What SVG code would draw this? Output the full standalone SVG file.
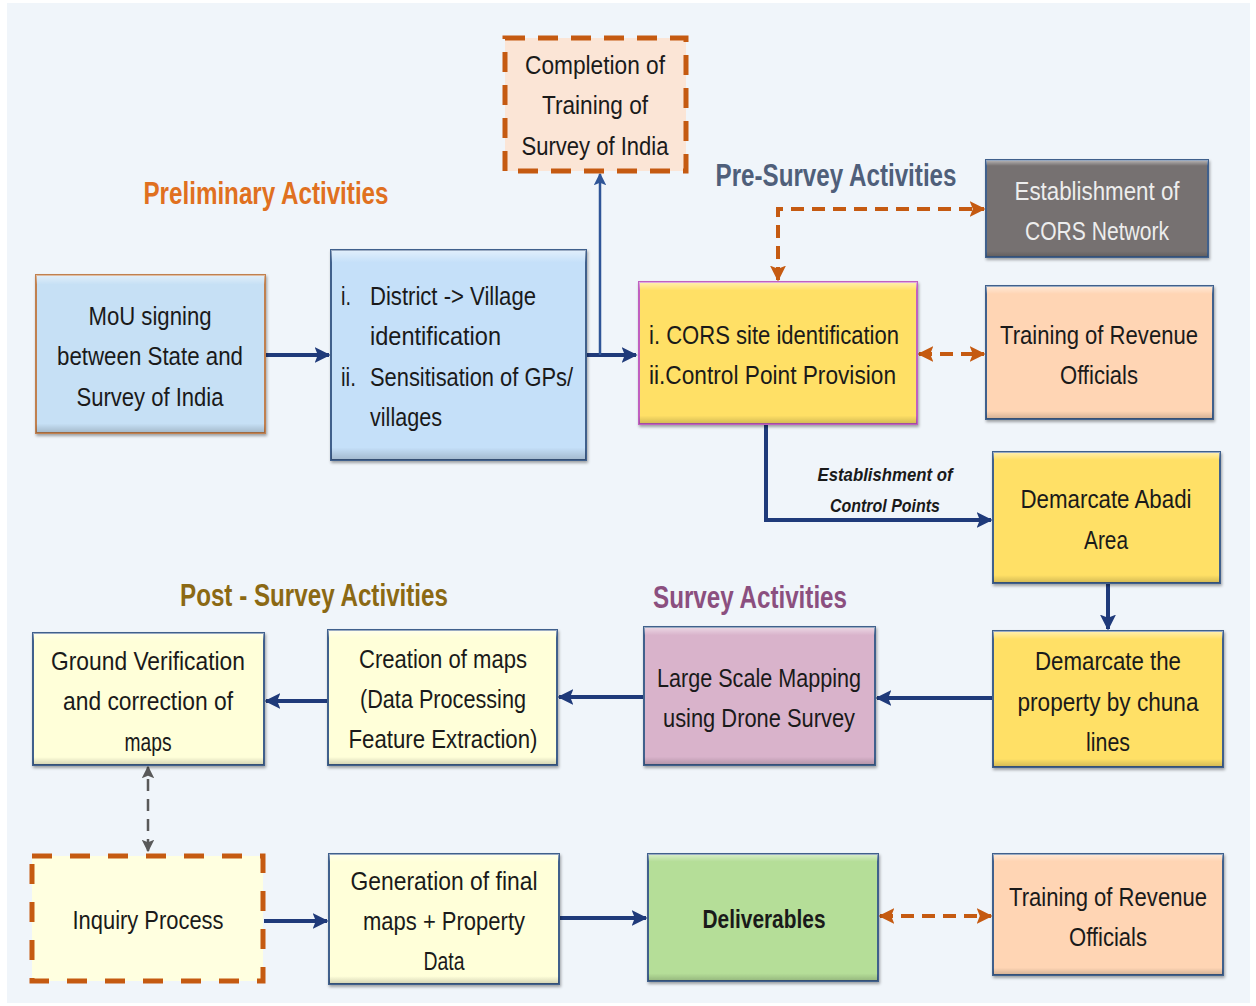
<svg xmlns="http://www.w3.org/2000/svg" width="1256" height="1006" viewBox="0 0 1256 1006">
<defs>
<style>
.t{font-family:"Liberation Sans","Open Sans",sans-serif;font-size:26px;fill:#1a1a1a;text-anchor:middle}
.s{text-anchor:start}
.h{font-family:"Liberation Sans",sans-serif;font-size:31px;font-weight:bold;text-anchor:middle}
.lb{font-family:"Liberation Sans",sans-serif;font-size:19px;font-style:italic;font-weight:bold;text-anchor:middle;fill:#1a1a1a}
.box{stroke:#41608C;stroke-width:2}
.c{fill:none;stroke:#1F3A7A;stroke-width:4}
.cd{fill:none;stroke:#C55A11;stroke-width:4;stroke-dasharray:13 8}
</style>
<marker id="a" viewBox="0 0 10 10" refX="9" refY="5" markerWidth="4" markerHeight="4" orient="auto-start-reverse"><path d="M0,0L10,5L0,10L2,5z" fill="#1F3A7A"/></marker>
<marker id="ab" viewBox="0 0 10 10" refX="9" refY="5" markerWidth="5" markerHeight="5" orient="auto-start-reverse"><path d="M0,0L10,5L0,10L2,5z" fill="#2F5597"/></marker>
<marker id="ao" viewBox="0 0 10 10" refX="9" refY="5" markerWidth="4" markerHeight="4" orient="auto-start-reverse"><path d="M0,0L10,5L0,10L2,5z" fill="#C55A11"/></marker>
<marker id="ag" viewBox="0 0 10 10" refX="9" refY="5" markerWidth="5" markerHeight="5" orient="auto-start-reverse"><path d="M0,0L10,5L0,10L2,5z" fill="#595959"/></marker>
<filter id="sh" x="-5%" y="-5%" width="110%" height="115%"><feDropShadow dx="1" dy="2" stdDeviation="1.5" flood-color="#000" flood-opacity="0.35"/></filter>
<linearGradient id="bev" x1="0" y1="0" x2="0" y2="1"><stop offset="0" stop-color="#fff" stop-opacity="0.5"/><stop offset="0.06" stop-color="#fff" stop-opacity="0"/><stop offset="0.94" stop-color="#000" stop-opacity="0"/><stop offset="1" stop-color="#000" stop-opacity="0.18"/></linearGradient>
</defs>
<rect x="0" y="0" width="1256" height="1006" fill="#ffffff"/>
<rect x="7" y="3" width="1243" height="1000" fill="#F0F5FA"/>

<text class="h" x="266" y="204" fill="#E07020" textLength="245" lengthAdjust="spacingAndGlyphs">Preliminary Activities</text>
<text class="h" x="836" y="186" fill="#4F5F7A" textLength="241" lengthAdjust="spacingAndGlyphs">Pre-Survey Activities</text>
<text class="h" x="750" y="608" fill="#8B4F7F" textLength="194" lengthAdjust="spacingAndGlyphs">Survey Activities</text>
<text class="h" x="314" y="606" fill="#8B6914" textLength="268" lengthAdjust="spacingAndGlyphs">Post - Survey Activities</text>

<g id="connectors">
<path class="c" d="M265,355H329" marker-end="url(#a)"/>
<path class="c" d="M586,355H636" marker-end="url(#a)"/>
<path d="M600,355V174" fill="none" stroke="#2F5597" stroke-width="2.5" marker-end="url(#ab)"/>
<path class="cd" d="M778,280V209H984" marker-start="url(#ao)" marker-end="url(#ao)"/>
<path class="cd" d="M919,354H984" marker-start="url(#ao)" marker-end="url(#ao)"/>
<path class="c" d="M766,424V520H991" stroke-width="3" marker-end="url(#a)"/>
<text class="lb" x="885" y="481" textLength="135" lengthAdjust="spacingAndGlyphs">Establishment  of</text>
<text class="lb" x="885" y="512" textLength="110" lengthAdjust="spacingAndGlyphs">Control Points</text>
<path class="c" d="M1108,583V629" marker-end="url(#a)"/>
<path class="c" d="M993,698H877" marker-end="url(#a)"/>
<path class="c" d="M644,697H559" marker-end="url(#a)"/>
<path class="c" d="M328,701H266" marker-end="url(#a)"/>
<path d="M148,851V767" fill="none" stroke="#595959" stroke-width="2.5" stroke-dasharray="12 8" marker-start="url(#ag)" marker-end="url(#ag)"/>
<path class="c" d="M264,921H327" marker-end="url(#a)"/>
<path class="c" d="M559,918H646" marker-end="url(#a)"/>
<path class="cd" d="M880,916H991" marker-start="url(#ao)" marker-end="url(#ao)"/>
</g>

<g id="completion">
<rect x="505" y="38" width="181" height="133" fill="#FBE5D6" stroke="#C55A11" stroke-width="5" stroke-dasharray="20 13"/>
<text class="t" x="595" y="74" textLength="140" lengthAdjust="spacingAndGlyphs">Completion of</text>
<text class="t" x="595" y="114" textLength="106" lengthAdjust="spacingAndGlyphs">Training of</text>
<text class="t" x="595" y="155" textLength="147" lengthAdjust="spacingAndGlyphs">Survey of India</text>
</g>

<g id="cors-network">
<rect x="986" y="160" width="222" height="97" fill="#767171" class="box" filter="url(#sh)"/>
<rect x="986" y="160" width="222" height="97" fill="url(#bev)"/>
<text class="t" x="1097" y="200" style="fill:#EDEDED" textLength="165" lengthAdjust="spacingAndGlyphs">Establishment of</text>
<text class="t" x="1097" y="240" style="fill:#EDEDED" textLength="144" lengthAdjust="spacingAndGlyphs">CORS Network</text>
</g>

<g id="mou">
<rect x="36" y="275" width="229" height="158" fill="#C6E0F5" stroke="#C0804F" stroke-width="2" filter="url(#sh)"/>
<rect x="36" y="275" width="229" height="158" fill="url(#bev)"/>
<text class="t" x="150" y="325" textLength="123" lengthAdjust="spacingAndGlyphs">MoU signing</text>
<text class="t" x="150" y="365" textLength="186" lengthAdjust="spacingAndGlyphs">between State and</text>
<text class="t" x="150" y="406" textLength="147" lengthAdjust="spacingAndGlyphs">Survey of India</text>
</g>

<g id="district">
<rect x="331" y="250" width="255" height="210" fill="#C5E0F9" class="box" filter="url(#sh)"/>
<rect x="331" y="250" width="255" height="210" fill="url(#bev)"/>
<text class="t s" x="341" y="305" textLength="10" lengthAdjust="spacingAndGlyphs">i.</text>
<text class="t s" x="370" y="305" textLength="166" lengthAdjust="spacingAndGlyphs">District -&gt; Village</text>
<text class="t s" x="370" y="345" textLength="131" lengthAdjust="spacingAndGlyphs">identification</text>
<text class="t s" x="341" y="386" textLength="15" lengthAdjust="spacingAndGlyphs">ii.</text>
<text class="t s" x="370" y="386" textLength="203" lengthAdjust="spacingAndGlyphs">Sensitisation of GPs/</text>
<text class="t s" x="370" y="426" textLength="72" lengthAdjust="spacingAndGlyphs">villages</text>
</g>

<g id="cors-site">
<rect x="639" y="282" width="278" height="142" fill="#FFE066" stroke="#C060C0" stroke-width="2" filter="url(#sh)"/>
<rect x="639" y="282" width="278" height="142" fill="url(#bev)"/>
<text class="t s" x="649" y="344" textLength="250" lengthAdjust="spacingAndGlyphs">i. CORS site identification</text>
<text class="t s" x="649" y="384" textLength="247" lengthAdjust="spacingAndGlyphs">ii.Control Point Provision</text>
</g>

<g id="training-top">
<rect x="986" y="286" width="227" height="133" fill="#FFD5B4" class="box" filter="url(#sh)"/>
<rect x="986" y="286" width="227" height="133" fill="url(#bev)"/>
<text class="t" x="1099" y="344" textLength="198" lengthAdjust="spacingAndGlyphs">Training of Revenue</text>
<text class="t" x="1099" y="384" textLength="78" lengthAdjust="spacingAndGlyphs">Officials</text>
</g>

<g id="abadi">
<rect x="993" y="452" width="227" height="131" fill="#FFE066" class="box" filter="url(#sh)"/>
<rect x="993" y="452" width="227" height="131" fill="url(#bev)"/>
<text class="t" x="1106" y="508" textLength="171" lengthAdjust="spacingAndGlyphs">Demarcate Abadi</text>
<text class="t" x="1106" y="549" textLength="44" lengthAdjust="spacingAndGlyphs">Area</text>
</g>

<g id="chuna">
<rect x="993" y="631" width="230" height="136" fill="#FFE066" class="box" filter="url(#sh)"/>
<rect x="993" y="631" width="230" height="136" fill="url(#bev)"/>
<text class="t" x="1108" y="670" textLength="146" lengthAdjust="spacingAndGlyphs">Demarcate the</text>
<text class="t" x="1108" y="711" textLength="181" lengthAdjust="spacingAndGlyphs">property by chuna</text>
<text class="t" x="1108" y="751" textLength="44" lengthAdjust="spacingAndGlyphs">lines</text>
</g>

<g id="mapping">
<rect x="644" y="627" width="231" height="138" fill="#D9B3CB" class="box" filter="url(#sh)"/>
<rect x="644" y="627" width="231" height="138" fill="url(#bev)"/>
<text class="t" x="759" y="687" textLength="204" lengthAdjust="spacingAndGlyphs">Large Scale Mapping</text>
<text class="t" x="759" y="727" textLength="192" lengthAdjust="spacingAndGlyphs">using Drone Survey</text>
</g>

<g id="creation">
<rect x="328" y="630" width="229" height="135" fill="#FFFFD9" class="box" filter="url(#sh)"/>
<rect x="328" y="630" width="229" height="135" fill="url(#bev)"/>
<text class="t" x="443" y="668" textLength="168" lengthAdjust="spacingAndGlyphs">Creation of maps</text>
<text class="t" x="443" y="708" textLength="166" lengthAdjust="spacingAndGlyphs">(Data Processing</text>
<text class="t" x="443" y="748" textLength="189" lengthAdjust="spacingAndGlyphs">Feature Extraction)</text>
</g>

<g id="ground">
<rect x="33" y="633" width="231" height="132" fill="#FFFFD9" class="box" filter="url(#sh)"/>
<rect x="33" y="633" width="231" height="132" fill="url(#bev)"/>
<text class="t" x="148" y="670" textLength="194" lengthAdjust="spacingAndGlyphs">Ground Verification</text>
<text class="t" x="148" y="710" textLength="170" lengthAdjust="spacingAndGlyphs">and correction of</text>
<text class="t" x="148" y="751" textLength="47" lengthAdjust="spacingAndGlyphs">maps</text>
</g>

<g id="inquiry">
<rect x="32" y="856" width="231" height="125" fill="#FFFFE0" stroke="#C55A11" stroke-width="5" stroke-dasharray="20 18"/>
<text class="t" x="148" y="929" textLength="151" lengthAdjust="spacingAndGlyphs">Inquiry Process</text>
</g>

<g id="generation">
<rect x="329" y="854" width="230" height="130" fill="#FFFFD9" class="box" filter="url(#sh)"/>
<rect x="329" y="854" width="230" height="130" fill="url(#bev)"/>
<text class="t" x="444" y="890" textLength="187" lengthAdjust="spacingAndGlyphs">Generation of final</text>
<text class="t" x="444" y="930" textLength="162" lengthAdjust="spacingAndGlyphs">maps + Property</text>
<text class="t" x="444" y="970" textLength="41" lengthAdjust="spacingAndGlyphs">Data</text>
</g>

<g id="deliverables">
<rect x="648" y="854" width="230" height="127" fill="#B5DE98" class="box" filter="url(#sh)"/>
<rect x="648" y="854" width="230" height="127" fill="url(#bev)"/>
<text class="t" x="764" y="928" font-weight="bold" textLength="123" lengthAdjust="spacingAndGlyphs">Deliverables</text>
</g>

<g id="training-bottom">
<rect x="993" y="854" width="230" height="121" fill="#FFD5B4" class="box" filter="url(#sh)"/>
<rect x="993" y="854" width="230" height="121" fill="url(#bev)"/>
<text class="t" x="1108" y="906" textLength="198" lengthAdjust="spacingAndGlyphs">Training of Revenue</text>
<text class="t" x="1108" y="946" textLength="78" lengthAdjust="spacingAndGlyphs">Officials</text>
</g>
</svg>
